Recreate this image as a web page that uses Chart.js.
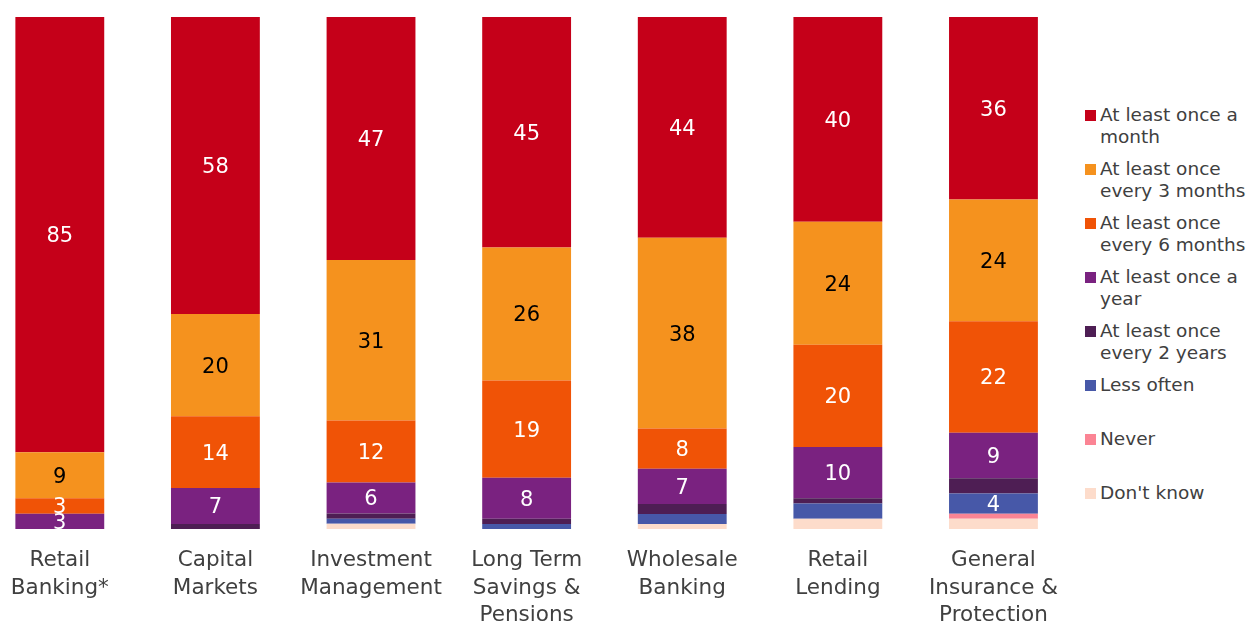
<!DOCTYPE html>
<html>
<head>
<meta charset="utf-8">
<script src="https://cdn.jsdelivr.net/npm/chart.js@4/dist/chart.umd.min.js"></script>
<style>
  html, body { margin: 0; padding: 0; background: #fff; }
  body { width: 1250px; height: 624px; position: relative; overflow: hidden; }
  #wrap { position: absolute; left: -18px; top: 0; width: 1093px; height: 624px; }
  #legend {
    position: absolute; left: 1085px; top: 104px; width: 165px;
    font-family: "DejaVu Sans", Verdana, sans-serif; font-size: 18.5px;
    line-height: 21.7px; color: #404040;
  }
  .item { display: flex; height: 54px; }
  .box { width: 11px; height: 11px; flex: none; margin: 6px 4px 0 0; }
  .txt { width: 150px; }
</style>
</head>
<body>
<div id="wrap"><canvas id="chart" width="1093" height="624"></canvas></div>
<div id="legend"></div>
<script>
const categories = [
  ["Retail", "Banking*"],
  ["Capital", "Markets"],
  ["Investment", "Management"],
  ["Long Term", "Savings &", "Pensions"],
  ["Wholesale", "Banking"],
  ["Retail", "Lending"],
  ["General", "Insurance &", "Protection"]
];

const seriesNames = [
  "At least once a month",
  "At least once every 3 months",
  "At least once every 6 months",
  "At least once a year",
  "At least once every 2 years",
  "Less often",
  "Never",
  "Don't know"
];

const monthly     = [85, 58, 47, 45, 44, 40, 36];
const threeMonths = [9, 20, 31, 26, 38, 24, 24];
const sixMonths   = [3, 14, 12, 19, 8, 20, 22];
const yearly      = [3, 7, 6, 8, 7, 10, 9];
const twoYears    = [0, 1, 1, 1, 2, 1, 3];
const lessOften   = [0, 0, 1, 1, 2, 3, 4];
const never       = [0, 0, 0, 0, 0, 0, 1];
const dontKnow    = [0, 0, 1, 0, 1, 2, 2];

const series = [monthly, threeMonths, sixMonths, yearly, twoYears, lessOften, never, dontKnow];
const colors = ["#C50019", "#F5921E", "#F05306", "#7A2280", "#4E1E54", "#4758A8", "#FB8494", "#FDDCCB"];
const labelColors = ["#fff", "#000", "#fff", "#fff", "#fff", "#fff", "#fff", "#fff"];

// 100% stacked: each column is scaled to its own total
const totals = categories.map((_, j) => series.reduce((s, arr) => s + arr[j], 0));
const shares = series.map(arr => arr.map((v, j) => v / totals[j] * 100));

const FONT = "'DejaVu Sans', Verdana, sans-serif";

// value labels centred in each segment, clipped to the plot area
const segmentLabels = {
  id: "segmentLabels",
  afterDatasetsDraw(chart) {
    const { ctx, chartArea } = chart;
    ctx.save();
    ctx.beginPath();
    ctx.rect(chartArea.left, chartArea.top, chartArea.right - chartArea.left, chartArea.bottom - chartArea.top);
    ctx.clip();
    ctx.font = "21px " + FONT;
    ctx.textAlign = "center";
    ctx.textBaseline = "middle";
    series.forEach((arr, i) => {
      const meta = chart.getDatasetMeta(i);
      meta.data.forEach((bar, j) => {
        const v = arr[j];
        if (!v) return;
        if (i > 3 && v < 4) return;
        const { x, y, base } = bar.getProps(["x", "y", "base"], true);
        ctx.fillStyle = labelColors[i];
        ctx.fillText(String(v), x, (y + base) / 2 + 2);
      });
    });
    ctx.restore();
  }
};

const chart = new Chart(document.getElementById("chart"), {
  type: "bar",
  data: {
    labels: categories,
    datasets: series.map((arr, i) => ({
      label: seriesNames[i],
      data: shares[i],
      backgroundColor: colors[i],
      borderWidth: 0,
      // "Don't know" sits at the bottom of the stack, monthly on top
      order: series.length - i,
      categoryPercentage: 1,
      barPercentage: 0.571
    }))
  },
  options: {
    responsive: false,
    animation: false,
    layout: { padding: { top: 17, left: 0, right: 0, bottom: 0 } },
    plugins: {
      legend: { display: false },
      tooltip: { enabled: false }
    },
    scales: {
      x: {
        stacked: true,
        grid: { display: false, drawTicks: false },
        border: { display: false },
        ticks: {
          autoSkip: false,
          maxRotation: 0,
          padding: 17,
          color: "#404040",
          font: { family: FONT, size: 21.5, lineHeight: 1.3 }
        },
        afterFit(scale) { scale.height = 95; }
      },
      y: {
        stacked: true,
        display: false,
        min: 0,
        max: 100
      }
    }
  },
  plugins: [segmentLabels]
});

// legend built from the chart's own legend items, in series order
const legendEl = document.getElementById("legend");
Chart.defaults.plugins.legend.labels.generateLabels(chart)
  .sort((a, b) => a.datasetIndex - b.datasetIndex)
  .forEach(item => {
    const row = document.createElement("div");
    row.className = "item";
    row.innerHTML = `<span class="box" style="background:${item.fillStyle}"></span><span class="txt">${item.text}</span>`;
    legendEl.appendChild(row);
  });
</script>
</body>
</html>
